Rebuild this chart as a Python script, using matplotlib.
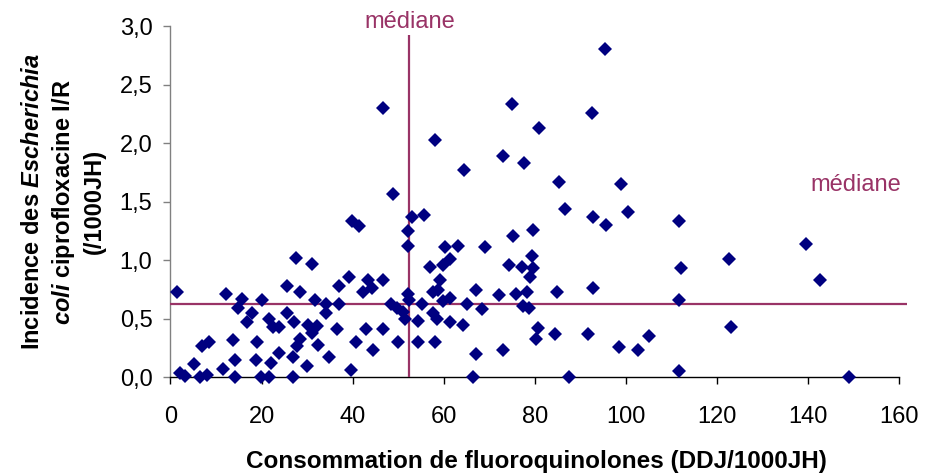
import matplotlib
matplotlib.use("Agg")
import matplotlib.pyplot as plt
from matplotlib.ticker import FixedLocator, FixedFormatter

plt.rcParams['font.family'] = ['Liberation Sans', 'DejaVu Sans']
plt.rcParams['mathtext.fontset'] = 'custom'
plt.rcParams['mathtext.it'] = 'Liberation Sans:italic:bold'
plt.rcParams['mathtext.rm'] = 'Liberation Sans:bold'
plt.rcParams['mathtext.bf'] = 'Liberation Sans:bold'

# Consommation de fluoroquinolones (DDJ/1000JH) par établissement
consommation = [
    1.4, 2.1, 3.2, 5.1, 6.5, 6.9, 8.0, 8.5, 11.5, 12.3,
    13.7, 14.2, 14.2, 14.9, 15.8, 16.9, 17.8, 18.7, 18.9, 19.9,
    20.0, 21.6, 21.7, 22.1, 22.6, 23.8, 23.8, 25.5, 25.5, 26.8,
    26.8, 27.2, 27.6, 27.7, 28.4, 28.4, 29.9, 30.3, 31.0, 31.0,
    31.8, 32.2, 32.5, 34.1, 34.1, 34.9, 36.5, 37.0, 37.0, 39.2,
    39.6, 39.8, 40.7, 41.4, 42.3, 42.9, 43.4, 44.2, 44.5, 46.7,
    46.7, 46.7, 48.4, 48.8, 49.7, 50.0, 51.1, 51.5, 52.2, 52.2,
    52.2, 52.4, 53.0, 54.4, 54.4, 55.2, 55.7, 57.1, 57.7, 57.7,
    58.2, 58.2, 58.6, 58.8, 59.3, 59.9, 59.9, 60.3, 61.4, 61.4,
    61.4, 63.2, 64.3, 64.5, 65.1, 66.4, 67.1, 67.1, 68.4, 69.1,
    72.2, 73.0, 73.1, 74.3, 75.1, 75.2, 75.8, 77.3, 77.5, 77.7,
    78.2, 78.7, 79.0, 79.3, 79.7, 79.7, 80.3, 80.7, 81.0, 84.4,
    85.0, 85.4, 86.6, 87.5, 91.7, 92.6, 92.9, 92.9, 95.5, 95.6,
    98.4, 98.9, 100.5, 102.7, 105.2, 111.6, 111.6, 111.7, 112.1, 122.7,
    123.0, 139.6, 142.6, 149.0,
]

# Incidence des E. coli ciprofloxacine I/R (/1000JH)
incidence = [
    0.73, 0.04, 0.01, 0.11, 0.00, 0.27, 0.02, 0.30, 0.07, 0.71,
    0.32, 0.15, 0.00, 0.59, 0.67, 0.47, 0.55, 0.15, 0.30, 0.00,
    0.66, 0.50, 0.00, 0.12, 0.43, 0.43, 0.21, 0.78, 0.55, 0.17,
    0.00, 0.47, 1.02, 0.27, 0.73, 0.33, 0.10, 0.45, 0.97, 0.38,
    0.66, 0.44, 0.28, 0.63, 0.55, 0.17, 0.41, 0.78, 0.63, 0.86,
    0.06, 1.34, 0.30, 1.29, 0.73, 0.41, 0.83, 0.76, 0.23, 0.83,
    0.41, 2.30, 0.63, 1.57, 0.59, 0.30, 0.56, 0.50, 1.25, 1.12,
    0.71, 0.66, 1.37, 0.48, 0.30, 0.63, 1.39, 0.94, 0.73, 0.55,
    2.03, 0.30, 0.50, 0.75, 0.83, 0.96, 0.65, 1.11, 1.01, 0.68,
    0.47, 1.12, 0.45, 1.77, 0.63, 0.00, 0.75, 0.20, 0.58, 1.11,
    0.70, 1.89, 0.23, 0.96, 2.34, 1.21, 0.71, 0.94, 0.61, 1.83,
    0.73, 0.59, 0.86, 1.04, 1.26, 0.93, 0.33, 0.42, 2.13, 0.37,
    0.73, 1.67, 1.44, 0.00, 0.37, 2.26, 1.37, 0.76, 2.81, 1.30,
    0.26, 1.65, 1.41, 0.23, 0.35, 1.34, 0.66, 0.05, 0.93, 1.01,
    0.43, 1.14, 0.83, 0.00,
]

mediane_conso = 52.3
mediane_incidence = 0.626

x_ticks = [0, 20, 40, 60, 80, 100, 120, 140, 160]
x_tick_labels = ["0", "20", "40", "60", "80", "100", "120", "140", "160"]
y_ticks = [0.0, 0.5, 1.0, 1.5, 2.0, 2.5, 3.0]
y_tick_labels = ["0,0", "0,5", "1,0", "1,5", "2,0", "2,5", "3,0"]

navy = '#000080'
plum = '#993366'

fig = plt.figure(figsize=(9.44, 4.75), dpi=100)
ax = fig.add_axes([0.1806, 0.2057, 0.7717, 0.7389])

ax.plot(consommation, incidence, linestyle='none', marker='D', markersize=7.2,
        color=navy, markeredgewidth=0, clip_on=False, zorder=4)

# lignes des médianes
ax.plot([0, 161.7], [mediane_incidence, mediane_incidence], color=plum,
        lw=1.6, clip_on=False, zorder=3, solid_capstyle='butt')
ax.plot([mediane_conso, mediane_conso], [0, 2.93], color=plum,
        lw=1.6, clip_on=False, zorder=3, solid_capstyle='butt')

ax.set_xlim(0, 160)
ax.set_ylim(0, 3.0)
ax.xaxis.set_major_locator(FixedLocator(x_ticks))
ax.xaxis.set_major_formatter(FixedFormatter(x_tick_labels))
ax.yaxis.set_major_locator(FixedLocator(y_ticks))
ax.yaxis.set_major_formatter(FixedFormatter(y_tick_labels))

for side in ('top', 'right'):
    ax.spines[side].set_visible(False)
ax.spines['left'].set_color('#808080')
ax.spines['left'].set_linewidth(1.0)
ax.spines['bottom'].set_color('black')
ax.spines['bottom'].set_linewidth(1.0)

ax.tick_params(axis='x', direction='out', length=5, width=1, colors='black',
               labelsize=17, pad=16)
ax.tick_params(axis='y', direction='out', length=5, width=1, color='#808080',
               labelcolor='black', labelsize=17, pad=8)

fig.text(0.568, 0.0147, "Consommation de fluoroquinolones (DDJ/1000JH)",
         ha='center', va='baseline', fontsize=17.5, fontweight='bold')

fig.text(0.0673, 0.575,
         "Incidence des $\\mathit{Escherichia}$\n$\\mathit{coli}$ ciprofloxacine I/R\n(/1000JH)",
         rotation=90, ha='center', va='center', multialignment='center',
         fontsize=17, fontweight='bold', linespacing=1.32)

fig.text(0.4343, 0.9404, "médiane", ha='center', va='baseline',
         fontsize=17, color=plum)
fig.text(0.9068, 0.5985, "médiane", ha='center', va='baseline',
         fontsize=17, color=plum)

fig.savefig("out.png", dpi=100)
